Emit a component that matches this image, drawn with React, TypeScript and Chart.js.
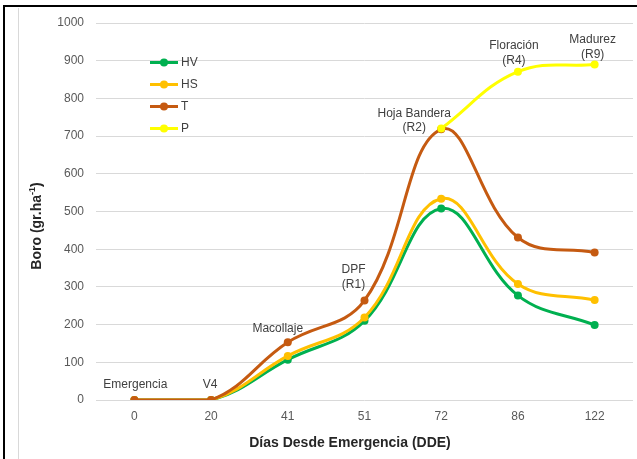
import React, { useEffect, useRef } from "react";
import { Chart, registerables } from "chart.js";

Chart.register(...registerables);

const categories = ["0", "20", "41", "51", "72", "86", "122"];
const seriesNames = ["HV", "HS", "T", "P"];
const seriesColors = ["#00b050", "#ffc000", "#c55a11", "#ffff00"];
const hvValues = [0, 0, 107, 210, 508, 277, 199];
const hsValues = [0, 0, 117, 219, 534, 308, 265];
const tValues = [0, 0, 153, 264, 718, 431, 391];
const pValues: (number | null)[] = [null, null, null, null, 720, 871, 890];
const stageLabels: string[][] = [
  ["Emergencia"],
  ["V4"],
  ["Macollaje"],
  ["DPF", "(R1)"],
  ["Hoja Bandera", "(R2)"],
  ["Floración", "(R4)"],
  ["Madurez", "(R9)"],
];
const yMin = 0;
const yMax = 1000;
const yStep = 100;
const xTitle = "Días Desde Emergencia (DDE)";
const yTitleMain = "Boro (gr.ha";
const yTitleSup = "-1";
const yTitleEnd = ")";

const FONT = "'Liberation Sans', Arial, sans-serif";

// layout offsets for stage labels: [dx, dy of last line] relative to the highest point
const stageOffsets: [number, number][] = [
  [1, -15],
  [-1, -15],
  [-10, -14],
  [-11, -16],
  [-27, -0.5],
  [-4, -11],
  [-2, -10],
];

const allSeries = [hvValues, hsValues, tValues, pValues];

const overlayPlugin = {
  id: "overlay",
  afterDatasetsDraw(chart: any) {
    const ctx = chart.ctx as CanvasRenderingContext2D;
    const xs = chart.scales.x;
    const ys = chart.scales.y;
    ctx.save();
    ctx.font = `12px ${FONT}`;
    ctx.fillStyle = "#404040";
    ctx.textAlign = "center";
    ctx.textBaseline = "middle";
    stageLabels.forEach((lines, i) => {
      let maxV = -Infinity;
      allSeries.forEach((s) => {
        const v = s[i];
        if (v !== null && v !== undefined && v > maxV) maxV = v;
      });
      const px = xs.getPixelForValue(i);
      const py = ys.getPixelForValue(maxV);
      const [dx, dy] = stageOffsets[i];
      const n = lines.length;
      lines.forEach((ln, j) => {
        ctx.fillText(ln, px + dx, py + dy - (n - 1 - j) * 14.5);
      });
    });

    const lx = 150;
    const ly0 = 62.5;
    seriesNames.forEach((name, i) => {
      const y = ly0 + i * 22;
      ctx.strokeStyle = seriesColors[i];
      ctx.lineWidth = 3;
      ctx.beginPath();
      ctx.moveTo(lx, y);
      ctx.lineTo(lx + 28, y);
      ctx.stroke();
      ctx.fillStyle = seriesColors[i];
      ctx.beginPath();
      ctx.arc(lx + 14, y, 4, 0, Math.PI * 2);
      ctx.fill();
      ctx.fillStyle = "#404040";
      ctx.textAlign = "left";
      ctx.textBaseline = "middle";
      ctx.font = `12px ${FONT}`;
      ctx.fillText(name, lx + 31, y + 0.5);
    });

    ctx.fillStyle = "#262626";
    ctx.font = `bold 14px ${FONT}`;
    ctx.textAlign = "center";
    ctx.textBaseline = "middle";
    ctx.fillText(xTitle, 350, 443);

    ctx.translate(37, 226);
    ctx.rotate(-Math.PI / 2);
    ctx.font = `bold 14px ${FONT}`;
    const w1 = ctx.measureText(yTitleMain).width;
    const w3 = ctx.measureText(yTitleEnd).width;
    ctx.font = `bold 9px ${FONT}`;
    const w2 = ctx.measureText(yTitleSup).width;
    const total = w1 + w2 + w3;
    let x = -total / 2;
    ctx.textAlign = "left";
    ctx.font = `bold 14px ${FONT}`;
    ctx.fillText(yTitleMain, x, 0);
    x += w1;
    ctx.font = `bold 9px ${FONT}`;
    ctx.fillText(yTitleSup, x, -4);
    x += w2;
    ctx.font = `bold 14px ${FONT}`;
    ctx.fillText(yTitleEnd, x, 0);
    ctx.restore();
  },
};

export default function App() {
  const ref = useRef<HTMLCanvasElement | null>(null);
  useEffect(() => {
    if (!ref.current) return;
    const mk = (i: number, data: (number | null)[], order: number) => ({
      label: seriesNames[i],
      data,
      borderColor: seriesColors[i],
      backgroundColor: seriesColors[i],
      pointBackgroundColor: seriesColors[i],
      pointBorderColor: seriesColors[i],
      borderWidth: 3,
      pointRadius: 4,
      pointBorderWidth: 0,
      tension: 0.4,
      fill: false,
      order,
    });
    const chart = new Chart(ref.current, {
      type: "line",
      data: {
        labels: categories,
        datasets: [
          mk(0, hvValues, 4),
          mk(1, hsValues, 3),
          mk(2, tValues, 2),
          mk(3, pValues, 1),
        ],
      },
      options: {
        responsive: false,
        animation: false,
        devicePixelRatio: 1,
        layout: { padding: { top: 23, right: 3, left: 0, bottom: 0 } },
        plugins: {
          legend: { display: false },
          tooltip: { enabled: false },
          title: { display: false },
        },
        scales: {
          x: {
            type: "category",
            offset: true,
            grid: { display: false, drawTicks: false },
            border: { display: false },
            ticks: {
              color: "#595959",
              font: { family: FONT, size: 12 },
              padding: 9,
              maxRotation: 0,
            },
            afterFit: (s: any) => {
              s.height = 59;
            },
          },
          y: {
            min: yMin,
            max: yMax,
            grid: { color: "#d9d9d9", lineWidth: 1, drawTicks: false },
            border: { display: false },
            ticks: {
              stepSize: yStep,
              color: "#595959",
              font: { family: FONT, size: 12 },
              padding: 12,
              callback: (v: any) => String(v),
            },
            afterFit: (s: any) => {
              s.width = 96;
            },
          },
        },
      } as any,
      plugins: [overlayPlugin],
    });
    return () => chart.destroy();
  }, []);

  return (
    <div style={{ position: "fixed", left: 0, top: 0, width: 637, height: 459, background: "#fff", overflow: "hidden" }}>
      <canvas ref={ref} width={637} height={459} style={{ position: "absolute", left: 0, top: 0, width: 637, height: 459 }} />
      <div style={{ position: "absolute", left: 18, top: 8, width: 1, height: 451, background: "#d9d9d9" }} />
      <div style={{ position: "absolute", left: 3, top: 5, width: 634, height: 2, background: "#000" }} />
      <div style={{ position: "absolute", left: 3, top: 5, width: 2, height: 454, background: "#000" }} />
    </div>
  );
}
